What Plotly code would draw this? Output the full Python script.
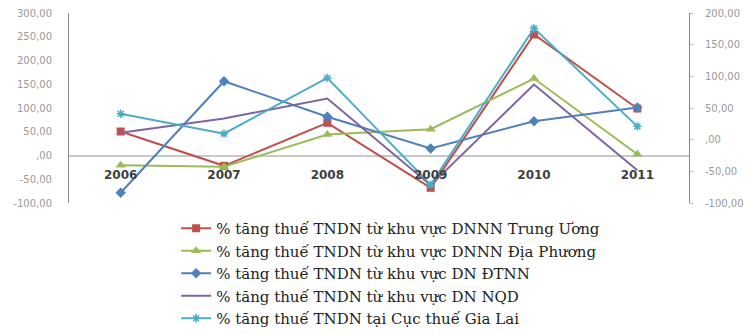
import plotly.graph_objects as go

years = ["2006", "2007", "2008", "2009", "2010", "2011"]

names = [
    "% tăng thuế TNDN từ khu vực DNNN Trung Ương",
    "% tăng thuế TNDN từ khu vực DNNN Địa Phương",
    "% tăng thuế TNDN từ khu vực DN ĐTNN",
    "% tăng thuế TNDN từ khu vực DN NQD",
    "% tăng thuế TNDN tại Cục thuế Gia Lai",
]

trung_uong = [50.5, -21.7, 68.8, -68.0, 254.7, 98.9]
dia_phuong = [-20.4, -23.8, 44.2, 55.4, 162.0, 2.7]
dtnn = [-78.5, 156.4, 81.5, 14.7, 72.2, 101.0]
nqd = [48.0, 78.0, 120.0, -62.5, 149.5, -31.0]
gia_lai = [41.0, 9.5, 97.5, -71.0, 176.0, 21.0]  # secondary axis

left_ticks = [300, 250, 200, 150, 100, 50, 0, -50, -100]
left_labels = ["300,00", "250,00", "200,00", "150,00", "100,00", "50,00", ",00", "-50,00", "-100,00"]
right_ticks = [200, 150, 100, 50, 0, -50, -100]
right_labels = ["200,00", "150,00", "100,00", "50,00", ",00", "-50,00", "-100,00"]

colors = ["#C0504D", "#9BBB59", "#4F81BD", "#8064A2", "#4BACC6"]

fig = go.Figure()
series = [trung_uong, dia_phuong, dtnn, nqd]
markers = [dict(symbol="square", size=8), dict(symbol="triangle-up", size=9),
           dict(symbol="diamond", size=8), None]
for i, vals in enumerate(series):
    fig.add_trace(go.Scatter(
        x=years, y=vals, name=names[i], mode="lines+markers" if i < 3 else "lines",
        line=dict(color=colors[i], width=2),
        marker=dict(color=colors[i], **markers[i]) if i < 3 else None,
        legendgroup=f"g{i}", yaxis="y"))
fig.add_trace(go.Scatter(
    x=years, y=gia_lai, name=names[4], mode="lines+markers",
    line=dict(color=colors[4], width=2),
    marker=dict(color=colors[4], symbol="asterisk-open", size=7, line=dict(color=colors[4], width=1.5)),
    legendgroup="g4", yaxis="y2"))

fig.update_layout(
    width=756, height=334,
    margin=dict(l=69, r=67, t=13, b=131, autoexpand=False),
    paper_bgcolor="white", plot_bgcolor="white",
    showlegend=True,
    legend=dict(x=0.233, y=1 - 212 / 334, xref="container", yref="container",
                xanchor="left", yanchor="top",
                font=dict(family="DejaVu Serif", size=15, color="#222222"),
                tracegroupgap=0, bgcolor="rgba(0,0,0,0)"),
    xaxis=dict(type="category", range=[-0.5, 5.5], anchor="free", position=0.245,
               showline=False, showgrid=False, zeroline=False, ticks="",
               tickfont=dict(family="DejaVu Sans", size=12, color="#404040", weight="bold"),
               ticklabelstandoff=10),
    yaxis=dict(range=[-100, 300], tickvals=left_ticks, ticktext=left_labels,
               showgrid=False, zeroline=True, zerolinecolor="#C8C8C8", zerolinewidth=1.5,
               showline=True, linecolor="#8C8C8C", linewidth=1,
               tickfont=dict(family="DejaVu Sans", size=10, color="#9a9a9a"),
               ticks="", ticklabelstandoff=14),
    yaxis2=dict(range=[-100, 200], tickvals=right_ticks, ticktext=right_labels,
                overlaying="y", side="right", showgrid=False, zeroline=False,
                showline=True, linecolor="#8C8C8C", linewidth=1,
                tickfont=dict(family="DejaVu Sans", size=10, color="#9a9a9a"),
                ticks="outside", ticklen=3, tickcolor="#bbbbbb", ticklabelstandoff=10),
)

fig.write_html("out.html")
